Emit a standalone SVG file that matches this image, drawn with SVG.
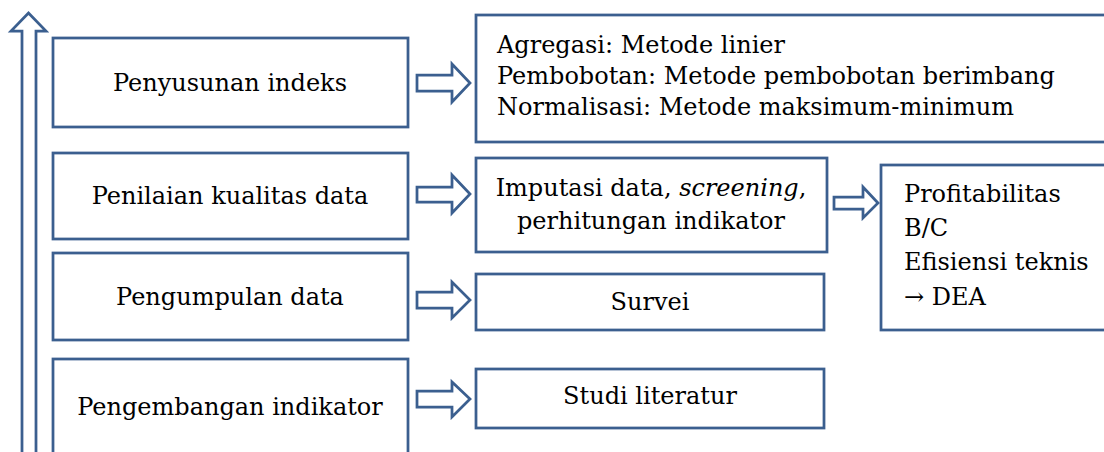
<svg xmlns="http://www.w3.org/2000/svg" width="1104" height="452" viewBox="0 0 1104 452">
<style>
.box{fill:#fff;stroke:#3b5f8f;stroke-width:2.75}
.arr{fill:#fff;stroke:#3b5f8f;stroke-width:2.75;stroke-linejoin:miter}
text{font-family:"DejaVu Serif","Liberation Serif",serif;font-size:24px;fill:#000}
.c{text-anchor:middle}
</style>
<rect width="1104" height="452" fill="#fff"/>
<g id="connectors">
<path class="arr" d="M22,460 V31 H11 L28.5,13 L46,31 H36 V460"/>
<path class="arr" d="M417,75 H452 V64 L470,83 L452,102 V91 H417 Z"/>
<path class="arr" d="M417,187 H452 V175 L470,194 L452,213 V202 H417 Z"/>
<path class="arr" d="M417,292 H452 V282 L470,300 L452,318 V308 H417 Z"/>
<path class="arr" d="M417,391 H452 V382 L470,399 L452,417 V407 H417 Z"/>
<path class="arr" d="M834,197 H863 V187 L878,203 L863,218 V209 H834 Z"/>
</g>
<g id="n1"><rect class="box" x="53" y="38" width="355" height="89"/><text class="c" x="230" y="91">Penyusunan indeks</text></g>
<g id="n2"><rect class="box" x="53" y="153" width="355" height="86"/><text class="c" x="230" y="204">Penilaian kualitas data</text></g>
<g id="n3"><rect class="box" x="53" y="253" width="355" height="87"/><text class="c" x="230" y="305">Pengumpulan data</text></g>
<g id="n4"><rect class="box" x="53" y="359" width="355" height="110"/><text class="c" x="230" y="415">Pengembangan indikator</text></g>
<g id="a1"><rect class="box" x="476" y="15" width="640" height="127"/>
<text x="497" y="53">Agregasi: Metode linier</text>
<text x="497" y="84">Pembobotan: Metode pembobotan berimbang</text>
<text x="497" y="115">Normalisasi: Metode maksimum-minimum</text></g>
<g id="a2"><rect class="box" x="476" y="158" width="351" height="94"/>
<text class="c" x="651" y="196">Imputasi data, <tspan font-style="italic">screening</tspan>,</text>
<text class="c" x="651" y="229">perhitungan indikator</text></g>
<g id="a3"><rect class="box" x="476" y="274" width="348" height="56"/><text class="c" x="650" y="310">Survei</text></g>
<g id="a4"><rect class="box" x="476" y="369" width="348" height="59"/><text class="c" x="650" y="404">Studi literatur</text></g>
<g id="a5"><rect class="box" x="881" y="165" width="240" height="165"/>
<text x="904" y="202">Profitabilitas</text>
<text x="904" y="236">B/C</text>
<text x="904" y="270">Efisiensi teknis</text>
<text x="904" y="305">→ DEA</text></g>
</svg>
